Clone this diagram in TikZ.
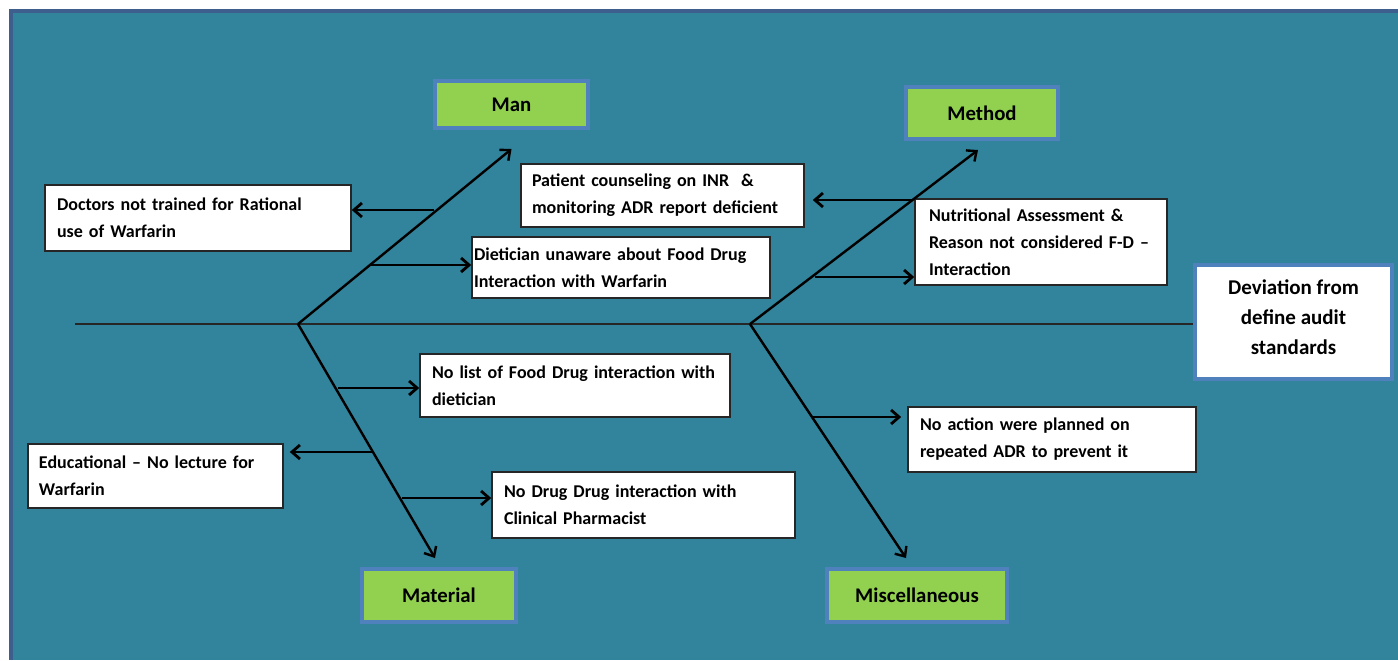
\documentclass[tikz,border=0pt]{standalone}
\usepackage{fontspec}
\setmainfont{Carlito}
\usetikzlibrary{arrows.meta}
\definecolor{fishbg}{HTML}{31849B}
\definecolor{framebl}{HTML}{3E5F8E}
\definecolor{leafgreen}{HTML}{92D050}
\definecolor{edgeblue}{HTML}{4F81BD}
\tikzset{
  cause/.style    = {rectangle, draw=black!85, fill=white, line width=0.8pt,
                     inner xsep=6pt, inner ysep=0pt, align=left,
                     font=\bfseries\fontsize{9}{13.5}\selectfont},
  category/.style = {rectangle, draw=edgeblue, fill=leafgreen, line width=2pt,
                     align=center, inner sep=0pt,
                     font=\bfseries\fontsize{10.4}{12}\selectfont},
  effect/.style   = {rectangle, draw=edgeblue, fill=white, line width=2pt,
                     align=center, inner sep=0pt,
                     font=\bfseries\fontsize{10.5}{15}\selectfont},
  arrow/.style    = {-{Straight Barb[length=4pt,width=7pt]}, line width=1.4pt},
  bone/.style     = {-{Straight Barb[length=4pt,width=7pt]}, line width=1.2pt},
  spine/.style    = {line width=0.9pt, draw=black!85},
}
\begin{document}
\begin{tikzpicture}[x=0.5pt, y=-0.5pt]
    \fill[white] (0,0) rectangle (1398,660);
    \useasboundingbox (0,0) rectangle (1398,660);
    \fill[fishbg] (9,9) rectangle (1398,660);
    \draw[framebl, line width=2pt] (1398,11) -- (11,11) -- (11,660);

    \node[category, minimum width=76.5pt, minimum height=23.5pt] (man)
      at (511.5,104.5) {Man};
    \node[category, minimum width=76pt, minimum height=26pt] (method)
      at (982,113) {Method};
    \node[category, minimum width=77pt, minimum height=26.5pt] (material)
      at (439,595.5) {Material};
    \node[category, minimum width=90pt, minimum height=26.5pt] (misc)
      at (917,595.5) {Miscellaneous};

    \node[effect, minimum width=98.5pt, minimum height=57pt] (deviation)
      at (1293.5,322) {Deviation from\\define audit\\standards\\[-10pt]};

    \node[cause, text width=141pt, minimum height=33pt] (doctors)
      at (198,218) {Doctors not trained for Rational\\use of Warfarin};
    \node[cause, inner xsep=1pt, text width=147pt, minimum height=30.5pt] (dietician)
      at (621,267.5) {Dietician unaware about Food Drug\\Interaction with Warfarin};
    \node[cause, inner xsep=5.5pt, text width=130.5pt, minimum height=31.5pt] (patient)
      at (662.5,195.5) {Patient counseling on INR\ \ \&\\monitoring ADR report deficient};
    \node[cause, inner xsep=7pt, text width=112pt, minimum height=43pt] (nutritional)
      at (1041,242) {Nutritional Assessment \&\\Reason not considered F-D --\\Interaction};
    \node[cause, inner xsep=4pt, text width=147pt, minimum height=31.5pt] (nolist)
      at (575,385.5) {\hspace{2pt}No list of Food Drug interaction with\\\hspace{2pt}dietician};
    \node[cause, inner xsep=5.5pt, text width=116.5pt, minimum height=32pt] (educational)
      at (155.5,476) {Educational -- No lecture for\\Warfarin};
    \node[cause, text width=139.5pt, minimum height=33pt] (nodrug)
      at (643.5,505) {No Drug Drug interaction with\\Clinical Pharmacist};
    \node[cause, text width=132pt, minimum height=32.5pt] (noaction)
      at (1052,439.5) {No action were planned on\\repeated ADR to prevent it};

    \coordinate (tail) at (75,324);
    \coordinate (j1) at (298,324);
    \coordinate (j2) at (750,324);
    \draw[spine] (tail) -- (tail -| deviation.west);

    \draw[bone] (j1) -- ([yshift=-9.5pt]man.south);
    \draw[bone] (j2) -- ([xshift=-2pt, yshift=-4.5pt]method.south);
    \draw[bone] (j1) -- ([xshift=-2pt, yshift=4.5pt]material.north);
    \draw[bone] (j2) -- ([xshift=-5.5pt, yshift=4.5pt]misc.north);

    \coordinate (m1) at (434,210);
    \coordinate (m2) at (370,265);
    \coordinate (t1) at (912,200);
    \coordinate (t2) at (815,277);
    \coordinate (a1) at (338,388);
    \coordinate (a2) at (374,452);
    \coordinate (a3) at (402,498);
    \coordinate (s1) at (812,417);

    \draw[arrow] (m1) -- (m1 -| doctors.east);
    \draw[arrow] (m2) -- (m2 -| dietician.west);
    \draw[arrow, shorten >=4pt] (t1) -- (t1 -| patient.east);
    \draw[arrow] (t2) -- (t2 -| nutritional.west);
    \draw[arrow] (a1) -- (a1 -| nolist.west);
    \draw[arrow, shorten >=3pt] (a2) -- (a2 -| educational.east);
    \draw[arrow] (a3) -- (a3 -| nodrug.west);
    \draw[arrow, shorten >=3pt] (s1) -- (s1 -| noaction.west);

  \end{tikzpicture}
\end{document}
